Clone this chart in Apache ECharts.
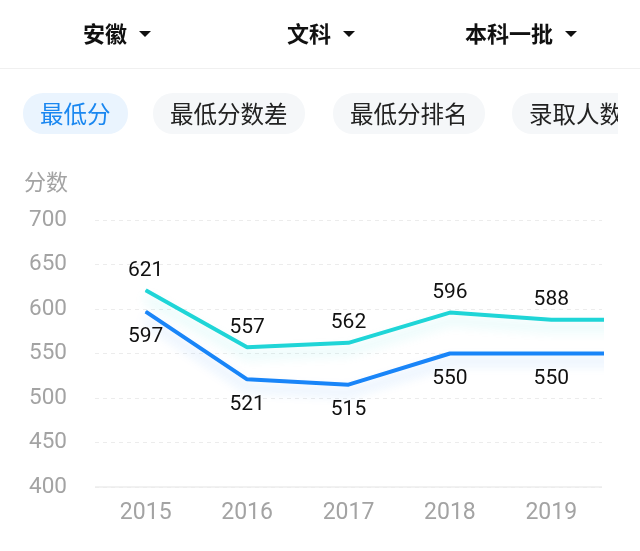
<!DOCTYPE html>
<html>
<head>
<meta charset="utf-8">
<script src="https://cdn.jsdelivr.net/npm/echarts@6/dist/echarts.min.js"></script>
<style>
  html, body { margin: 0; padding: 0; background: #fff; }
  body { width: 640px; height: 551px; position: relative; overflow: hidden;
         font-family: Roboto, "Noto Sans CJK SC", sans-serif; }
  #chart { position: absolute; left: 0; top: 0; width: 604px; height: 551px; }
  .hdr { position: absolute; top: 18px; font-size: 22px; font-weight: bold; color: #111;
         font-family: "Noto Sans CJK SC", sans-serif; line-height: 28px; white-space: nowrap; z-index: 2; }
  .tri { display: inline-block; width: 0; height: 0; border-left: 6px solid transparent;
         border-right: 6px solid transparent; border-top: 6px solid #111; vertical-align: middle;
         margin-left: 12px; position: relative; top: -2px; }
  .divider { position: absolute; left: 0; top: 68px; width: 640px; height: 1px; background: #f0f0f0; z-index: 2; }
  .tabs { position: absolute; left: 0; top: 93px; width: 618px; height: 41px; overflow: hidden; z-index: 2; }
  .tab { position: absolute; top: 0; height: 41px; line-height: 41px; border-radius: 20px;
         background: #f5f7f9; color: #222; font-size: 23.5px; white-space: nowrap;
         font-family: "Noto Sans CJK SC", sans-serif; box-sizing: border-box; padding: 0 17px; }
  .tab.on { background: #eaf4fe; color: #1a87f0; }
</style>
</head>
<body>
<div class="hdr" style="left:83px">安徽<span class="tri"></span></div>
<div class="hdr" style="left:287px">文科<span class="tri"></span></div>
<div class="hdr" style="left:465px">本科一批<span class="tri"></span></div>
<div class="divider"></div>
<div class="tabs">
  <div class="tab on" style="left:23px">最低分</div>
  <div class="tab" style="left:153px">最低分数差</div>
  <div class="tab" style="left:333px">最低分排名</div>
  <div class="tab" style="left:512px">录取人数</div>
</div>
<div id="chart"></div>
<script>
// Categories (the last one continues beyond the visible window)
const years = ['2015', '2016', '2017', '2018', '2019', '2020'];
const yTicks = [400, 450, 500, 550, 600, 650, 700];
// Series values
const upperScores = [621, 557, 562, 596, 588, 588];
const lowerScores = [597, 521, 515, 550, 550, 550];
const yAxisName = '分数';

const chart = echarts.init(document.getElementById('chart'), null, { renderer: 'canvas' });

function lineSeries(name, data, color, shadow, labelPos, dist) {
  return {
    name: name,
    type: 'line',
    data: data,
    symbol: 'circle',
    symbolSize: 1,
    showSymbol: true,
    clip: true,
    itemStyle: { color: color },
    lineStyle: { color: color, width: 4, shadowColor: shadow, shadowBlur: 12, shadowOffsetY: 8 },
    label: {
      show: true,
      position: labelPos,
      distance: dist,
      color: '#111',
      fontSize: 21,
      fontFamily: 'Roboto, sans-serif'
    },
    z: 3
  };
}

chart.setOption({
  animation: false,
  grid: { left: 95, right: 2, top: 220, bottom: 64, containLabel: false },
  xAxis: {
    type: 'category',
    data: years,
    max: 4,
    boundaryGap: true,
    axisLine: { show: false },
    axisTick: { show: false },
    axisLabel: { color: '#a3a3a3', fontSize: 23, margin: 15, fontFamily: 'Roboto, sans-serif' },
    splitLine: { show: false }
  },
  yAxis: {
    type: 'value',
    min: yTicks[0],
    max: yTicks[yTicks.length - 1],
    interval: yTicks[1] - yTicks[0],
    name: yAxisName,
    nameLocation: 'end',
    nameGap: 27,
    nameTextStyle: { color: '#a3a3a3', fontSize: 22, align: 'right', padding: [0, 27, 0, 0],
                     fontFamily: '"Noto Sans CJK SC", sans-serif' },
    axisLine: { show: false },
    axisTick: { show: false },
    axisLabel: { color: '#a3a3a3', fontSize: 22.5, margin: 28, fontFamily: 'Roboto, sans-serif' },
    splitLine: { show: true, lineStyle: { color: '#ececec', type: [4, 4], width: 1 } }
  },
  series: [
    lineSeries('upper', upperScores, '#1fd5d7', 'rgba(31,213,215,0.22)', 'top', 9),
    lineSeries('lower', lowerScores, '#1985f8', 'rgba(25,133,248,0.22)', 'bottom', 14),
    {
      type: 'line',
      data: [],
      markLine: {
        silent: true, symbol: 'none', label: { show: false },
        lineStyle: { color: '#ececec', type: 'solid', width: 1.5 },
        data: [{ yAxis: yTicks[0] }]
      }
    }
  ]
});
</script>
</body>
</html>
